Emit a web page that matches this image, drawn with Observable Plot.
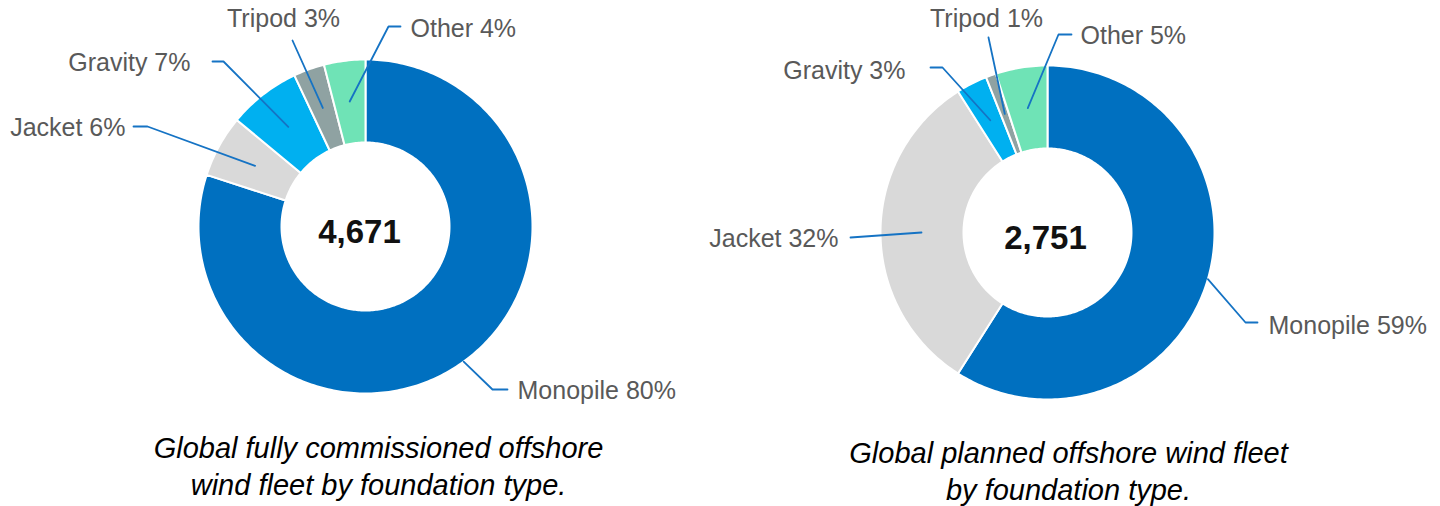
<!DOCTYPE html>
<html>
<head>
<meta charset="utf-8">
<script src="https://cdn.jsdelivr.net/npm/d3@7"></script>
<script src="https://cdn.jsdelivr.net/npm/@observablehq/plot@0.6"></script>
<style>
  html, body { margin: 0; padding: 0; background: #ffffff; }
  #chart svg { display: block; }
</style>
</head>
<body>
<div id="chart"></div>
<script>
// ---------- DATA ----------
const categories = ["Monopile", "Jacket", "Gravity", "Tripod", "Other"];
const commissionedShares = [80, 6, 7, 3, 4];   // %
const plannedShares = [59, 32, 3, 1, 5];       // %
const commissionedTotal = 4671;
const plannedTotal = 2751;
const captionCommissioned = "Global fully commissioned offshore\nwind fleet by foundation type.";
const captionPlanned = "Global planned offshore wind fleet\nby foundation type.";

// ---------- STYLE / LAYOUT ----------
const sliceColors = ["#0070C0", "#D9D9D9", "#00B0F0", "#8FA2A2", "#6FE3B6"];
const W = 1440, H = 506;
const outerR = 167, innerR = 84, midR = 126;

const charts = [
  {
    key: "c", shares: commissionedShares, total: commissionedTotal, caption: captionCommissioned,
    cx: 365, cy: 226, numDx: -6, capX: 378, capY: 464,
    labels: {
      Monopile: {r: outerR, pts: [[127, 163], [142, 163]], text: [152, 164], align: "start"},
      Jacket:   {r: midR, pts: [[-218, -100], [-232, -100]], text: [-240, -99], align: "end"},
      Gravity:  {r: midR, pts: [[-142, -165], [-153, -165]], text: [-175, -164], align: "end"},
      Tripod:   {r: midR, pts: [[-73, -186]], text: [-82, -208], align: "middle"},
      Other:    {r: midR, pts: [[23, -200], [35, -200]], text: [45, -198], align: "start"}
    }
  },
  {
    key: "p", shares: plannedShares, total: plannedTotal, caption: captionPlanned,
    cx: 1047, cy: 232, numDx: -2, capX: 1068, capY: 469,
    labels: {
      Monopile: {r: outerR, pts: [[198, 90], [210, 90]], text: [221, 93], align: "start"},
      Jacket:   {r: midR, pts: [[-197, 5]], text: [-209, 6], align: "end"},
      Gravity:  {r: midR, pts: [[-105, -165], [-117, -165]], text: [-142, -162], align: "end"},
      Tripod:   {r: midR, pts: [[-59, -195]], text: [-61, -214], align: "middle"},
      Other:    {r: midR, pts: [[11, -198], [24, -198]], text: [33, -197], align: "start"}
    }
  }
];

// ---------- BUILD GEOMETRY FROM DATA ----------
const polar = (cx, cy, r, a) => [cx + r * Math.sin(a), cy - r * Math.cos(a)];
const slicePts = [], leaderPts = [], labelRows = [], centerRows = [], captionRows = [];

for (const ch of charts) {
  const sum = d3.sum(ch.shares);
  let cum = 0;
  ch.shares.forEach((v, i) => {
    const a0 = cum / sum * 2 * Math.PI;
    cum += v;
    const a1 = cum / sum * 2 * Math.PI;
    const id = ch.key + i;
    const n = Math.max(2, Math.ceil((a1 - a0) / (Math.PI / 180)));
    const ring = [];
    for (let k = 0; k <= n; k++) ring.push(polar(ch.cx, ch.cy, outerR, a0 + (a1 - a0) * k / n));
    for (let k = n; k >= 0; k--) ring.push(polar(ch.cx, ch.cy, innerR, a0 + (a1 - a0) * k / n));
    ring.push(ring[0]);
    ring.forEach(([x, y], j) => slicePts.push({id, category: categories[i], x, y, j}));

    // leader line + label
    const lay = ch.labels[categories[i]];
    const am = (a0 + a1) / 2;
    const [ax, ay] = polar(ch.cx, ch.cy, lay.r, am);
    leaderPts.push({id, x: ax, y: ay});
    lay.pts.forEach(([dx, dy]) => leaderPts.push({id, x: ch.cx + dx, y: ch.cy + dy}));
    labelRows.push({
      x: ch.cx + lay.text[0], y: ch.cy + lay.text[1], align: lay.align,
      text: `${categories[i]} ${v}%`
    });
  });
  centerRows.push({x: ch.cx + ch.numDx, y: ch.cy + 6, text: d3.format(",")(ch.total)});
  captionRows.push({x: ch.capX, y: ch.capY, text: ch.caption});
}

const font = "Liberation Sans, Arial, Helvetica, sans-serif";
const labelMark = (align) => Plot.text(labelRows.filter(d => d.align === align), {
  x: "x", y: "y", text: "text", textAnchor: align,
  fontSize: 25, fill: "#595959", fontFamily: font
});

const plot = Plot.plot({
  width: W, height: H,
  margin: 0,
  x: {domain: [0, W], range: [0, W], axis: null},
  y: {domain: [0, H], range: [0, H], axis: null},
  color: {domain: categories, range: sliceColors},
  style: {fontFamily: font, background: "#ffffff"},
  marks: [
    Plot.line(slicePts, {
      x: "x", y: "y", z: "id", fill: "category",
      stroke: "#ffffff", strokeWidth: 2, strokeLinejoin: "round", curve: "linear"
    }),
    Plot.line(leaderPts, {
      x: "x", y: "y", z: "id", stroke: "#1573C4", strokeWidth: 1.8, strokeLinejoin: "round"
    }),
    labelMark("start"),
    labelMark("end"),
    labelMark("middle"),
    Plot.text(centerRows, {
      x: "x", y: "y", text: "text", fontSize: 33, fontWeight: "bold", fill: "#111111", fontFamily: font
    }),
    Plot.text(captionRows, {
      x: "x", y: "y", text: "text", fontSize: 29, fontStyle: "italic", fill: "#000000",
      lineHeight: 1.27, fontFamily: font
    })
  ]
});

document.getElementById("chart").appendChild(plot);
</script>
</body>
</html>
